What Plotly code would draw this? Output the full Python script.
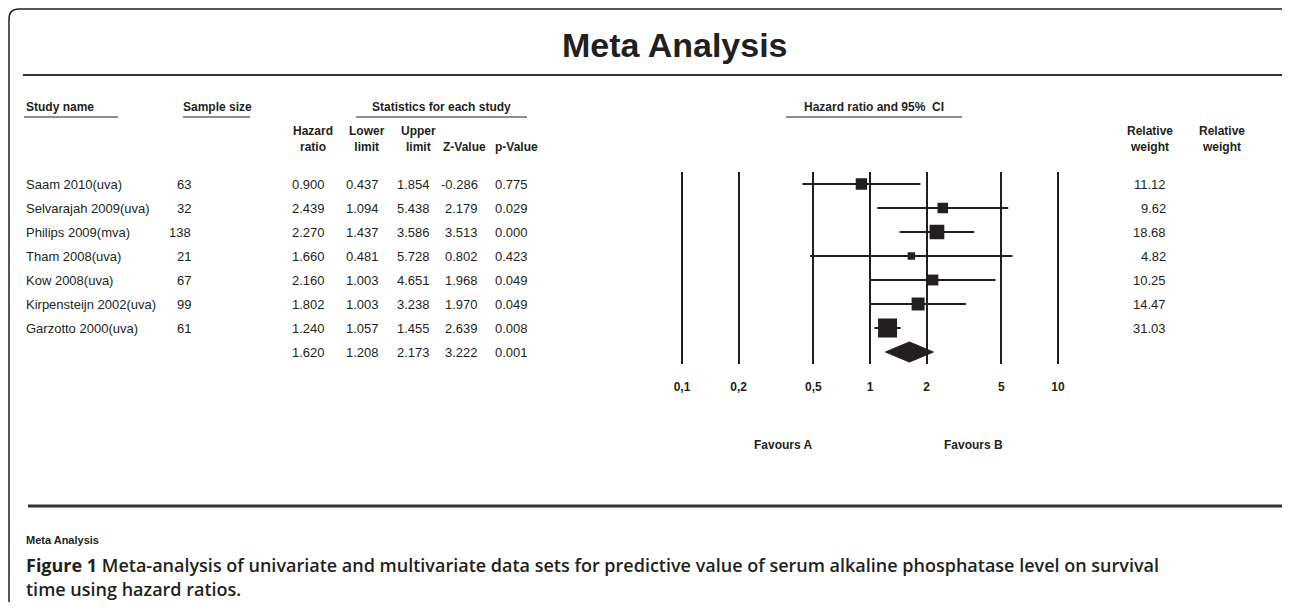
import plotly.graph_objects as go
import math

# ---------------- data ----------------
studies = ["Saam 2010(uva)", "Selvarajah 2009(uva)", "Philips 2009(mva)", "Tham 2008(uva)",
           "Kow 2008(uva)", "Kirpensteijn 2002(uva)", "Garzotto 2000(uva)"]
sample_size = [63, 32, 138, 21, 67, 99, 61]
hazard_ratio = [0.900, 2.439, 2.270, 1.660, 2.160, 1.802, 1.240]
lower_limit = [0.437, 1.094, 1.437, 0.481, 1.003, 1.003, 1.057]
upper_limit = [1.854, 5.438, 3.586, 5.728, 4.651, 3.238, 1.455]
z_value = [-0.286, 2.179, 3.513, 0.802, 1.968, 1.970, 2.639]
p_value = [0.775, 0.029, 0.000, 0.423, 0.049, 0.049, 0.008]
rel_weight = [11.12, 9.62, 18.68, 4.82, 10.25, 14.47, 31.03]

summary_hr = 1.620
summary_lower = 1.208
summary_upper = 2.173
summary_z = 3.222
summary_p = 0.001

tick_vals = [0.1, 0.2, 0.5, 1, 2, 5, 10]
tick_text = ["0,1", "0,2", "0,5", "1", "2", "5", "10"]

caption_line1 = ("<b>Figure 1</b> Meta-analysis of univariate and multivariate data sets for predictive "
                 "value of serum alkaline phosphatase level on survival")
caption_line2 = "time using hazard ratios."

# ---------------- geometry helpers ----------------
# the page body has an 8px margin, so the figure is offset by (8, 8)
OFF = 8
W, H = 1290, 610
FW, FH = W - 2 * OFF, H - 2 * OFF
def px(x):
    return (x - OFF) / FW
def py(y):
    return 1 - (y - OFF) / FH

INK = "#231f20"
FONT = "Liberation Sans"

row_y0, row_dy = 184, 24
def row_y(i):
    return row_y0 + row_dy * i

fig = go.Figure()

n = len(studies)
# CI lines
ci_x, ci_y = [], []
for i in range(n):
    ci_x += [lower_limit[i], upper_limit[i], None]
    ci_y += [i, i, None]
fig.add_trace(go.Scatter(x=ci_x, y=ci_y, mode="lines", line=dict(color=INK, width=2),
                         hoverinfo="skip", showlegend=False))
# squares
max_w = max(rel_weight)
sizes = [19 * math.sqrt(w / max_w) for w in rel_weight]
fig.add_trace(go.Scatter(x=hazard_ratio, y=list(range(n)), mode="markers", opacity=1,
                         marker=dict(symbol="square", size=sizes, color=INK, opacity=1,
                                     line=dict(width=0)),
                         showlegend=False))
# summary diamond
h = 0.42
fig.add_trace(go.Scatter(x=[summary_lower, summary_hr, summary_upper, summary_hr, summary_lower],
                         y=[n, n - h, n, n + h, n], mode="lines", fill="toself",
                         fillcolor=INK, line=dict(color=INK, width=1), showlegend=False))

# axes: forest panel
ppd = 188.0  # pixels per decade
x_left, x_right = 682 - 0.05 * ppd, 1058 + 0.05 * ppd
fig.update_xaxes(type="log", range=[-1.05, 1.05], domain=[px(x_left), px(x_right)],
                 tickvals=tick_vals, ticktext=tick_text, showgrid=True, gridcolor=INK,
                 gridwidth=2, zeroline=False, showline=False, ticks="",
                 tickfont=dict(family=FONT, size=12, color=INK, weight="bold"),
                 ticklabelstandoff=14, fixedrange=True)
fig.update_yaxes(range=[n + 0.5, -0.5], domain=[py(364), py(172)], showgrid=False,
                 zeroline=False, showline=False, showticklabels=False, ticks="", fixedrange=True)

ann = []
def text(x, y, s, size=13, bold=False, anchor="left", fam=FONT, color=INK, weight=None):
    ann.append(dict(x=px(x), y=py(y), xref="paper", yref="paper", text=s, showarrow=False,
                    xanchor=anchor, yanchor="middle", align="center" if anchor == "center" else anchor,
                    font=dict(family=fam, size=size, color=color,
                              weight=weight if weight else ("bold" if bold else "normal"))))

# title
text(675, 45, "Meta Analysis", size=34, bold=True, anchor="center")

# header row 1
hdr1_y = 107
text(24, hdr1_y, "Study name", size=12, bold=True)
text(217, hdr1_y, "Sample size", size=12, bold=True, anchor="center")
text(441, hdr1_y, "Statistics for each study", size=12, bold=True, anchor="center")
text(874, hdr1_y, "Hazard ratio and 95%  CI", size=12, bold=True, anchor="center")

# column positions (right edges for numbers, centers for headers)
col_hdr = [("Hazard<br>ratio", 313), ("Lower<br>limit", 367), ("Upper<br>limit", 418),
           ("Z-Value", 464), ("p-Value", 516)]
num_right = [327, 381, 432, 480, 530]
for label, cx in col_hdr:
    if "<br>" in label:
        text(cx, 139, label, size=12, bold=True, anchor="center")
    else:
        text(cx, 147, label, size=12, bold=True, anchor="center")
text(1150, 139, "Relative<br>weight", size=12, bold=True, anchor="center")
text(1222, 139, "Relative<br>weight", size=12, bold=True, anchor="center")

# rows
for i in range(n):
    y = row_y(i)
    text(24, y, studies[i])
    text(193, y, str(sample_size[i]), anchor="right")
    vals = [hazard_ratio[i], lower_limit[i], upper_limit[i], z_value[i], p_value[i]]
    for v, xr in zip(vals, num_right):
        text(xr, y, f"{v:.3f}", anchor="right")
    text(1168, y, f"{rel_weight[i]:.2f}", anchor="right")
ys = row_y(n)
for v, xr in zip([summary_hr, summary_lower, summary_upper, summary_z, summary_p], num_right):
    text(xr, ys, f"{v:.3f}", anchor="right")

# favours
text(783, 445, "Favours A", size=12, bold=True, anchor="center")
text(973, 445, "Favours B", size=12, bold=True, anchor="center")

# footer
text(24, 540, "Meta Analysis", size=11, bold=True)
text(24, 565, caption_line1, size=18, fam="Open Sans", weight=600)
text(24, 589, caption_line2, size=18, fam="Open Sans", weight=600)

shapes = []
def hline(x0, x1, y, w=1.5, color=INK):
    shapes.append(dict(type="line", xref="paper", yref="paper", x0=px(x0), x1=px(x1),
                       y0=py(y), y1=py(y), line=dict(color=color, width=w)))
# header underlines
hline(24, 118, 117, 1.2)
hline(183, 250, 117, 1.2)
hline(356, 527, 117, 1.2)
hline(786, 962, 117, 1.2)
# rules
hline(23, 1300, 75, 2, "#333333")
hline(28, 1300, 506, 3, "#333333")
# rounded border
r = 10
bx, by = 9, 9
path = (f"M {px(1300)},{py(by)} L {px(bx + r)},{py(by)} Q {px(bx)},{py(by)} {px(bx)},{py(by + r)} "
        f"L {px(bx)},{py(610 - r)} Q {px(bx)},{py(610)} {px(bx + r)},{py(610)}")
shapes.append(dict(type="path", xref="paper", yref="paper", path=path,
                   line=dict(color=INK, width=1.5)))

fig.update_layout(width=FW, height=FH, margin=dict(l=0, r=0, t=0, b=0),
                  paper_bgcolor="white", plot_bgcolor="white",
                  annotations=ann, shapes=shapes, showlegend=False)

fig.write_html("out.html")
